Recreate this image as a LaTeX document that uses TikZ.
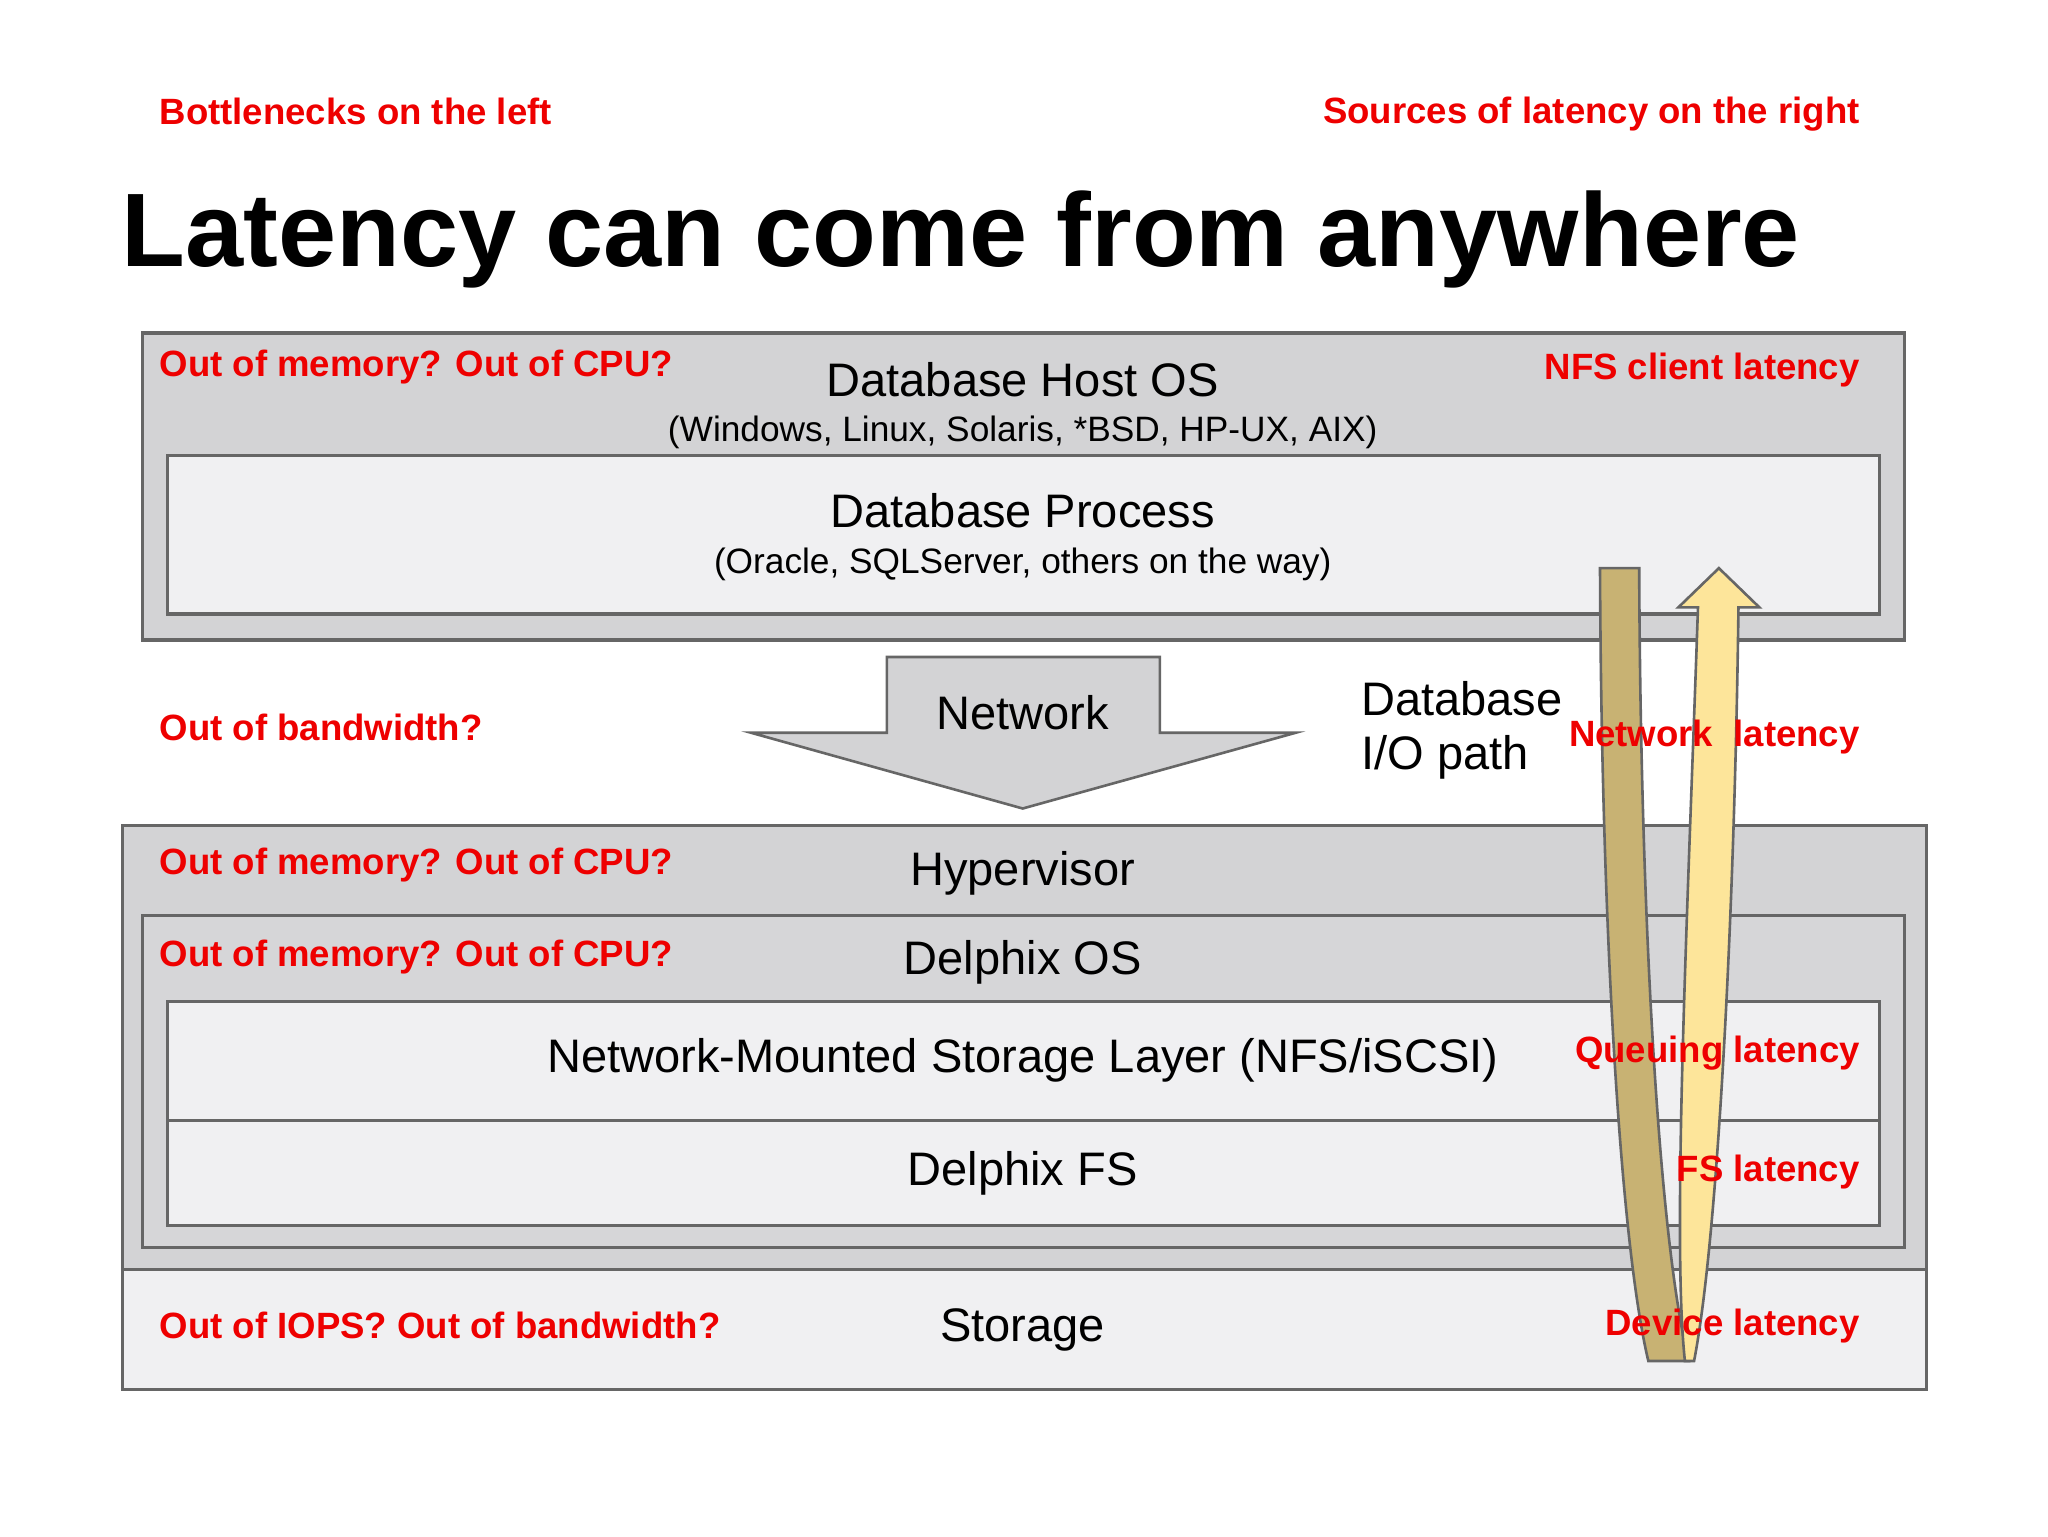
\documentclass[tikz,border=0pt]{standalone}
\usepackage{fontspec}
\setmainfont{Liberation Sans}
\definecolor{redt}{HTML}{EE0000}
\definecolor{bord}{HTML}{666666}
\definecolor{gA}{HTML}{D3D3D5}
\definecolor{gB}{HTML}{F0F0F2}
\definecolor{tan}{HTML}{C8B273}
\definecolor{yel}{HTML}{FDE59A}
\begin{document}
\begin{tikzpicture}[x=1pt,y=-1pt,
  box/.style={draw=bord,line width=2.5pt},
  red/.style={text=redt,font=\fontsize{28}{30}\selectfont\bfseries,inner sep=0pt},
  lbl/.style={font=\fontsize{36}{38}\selectfont,inner sep=0pt},
  sub/.style={font=\fontsize{27}{29}\selectfont,inner sep=0pt}]
\useasboundingbox[fill=white] (0,0) rectangle (1568,1176);
\node[red,anchor=west] (bl) at (122,85) {Bottlenecks on the left};
\node[red,anchor=east] (sr) at (1424,87) {Sources of latency on the right};
\node[anchor=west,inner sep=0pt,font=\fontsize{80}{84}\selectfont\bfseries] (title) at (93,183) {Latency can come from anywhere};
% Host OS
\draw[box,fill=gA] (109,255) rectangle (1458,490);
\node[lbl] (hos) at (783,291) {Database Host OS};
\node[sub] (hoss) at (783,331) {(Windows, Linux, Solaris, *BSD, HP-UX, AIX)};
\node[red,anchor=west] (r1) at (122,281) {Out of memory? Out of CPU?};
\node[red,anchor=east] (l1) at (1424,283) {NFS client latency};
\draw[box,fill=gB] (128,349) rectangle (1439,470);
\node[lbl] (dp) at (783,391) {Database Process};
\node[sub] (dps) at (783,432) {(Oracle, SQLServer, others on the way)};
% Network arrow
\draw[box,fill=gA,line width=2pt] (679,503) -- (888,503) -- (888,561) -- (992,561) -- (783,619) -- (575,561) -- (679,561) -- cycle;
\node[lbl] (net) at (783,546) {Network};
\node[lbl,anchor=west] (io1) at (1042,535) {Database};
\node[lbl,anchor=west] (io2) at (1042,580) {I/O path};
\node[red,anchor=west] (r2) at (122,557) {Out of bandwidth?};
% Hypervisor
\draw[box,fill=gA] (94,632) rectangle (1475,972);
\node[lbl] (hv) at (783,669) {Hypervisor};
\node[red,anchor=west] (r3) at (122,662) {Out of memory? Out of CPU?};
\draw[box,fill={rgb,255:red,214;green,214;blue,216}] (109,701) rectangle (1458,955);
\node[lbl] (dos) at (783,737) {Delphix OS};
\node[red,anchor=west] (r4) at (122,733) {Out of memory? Out of CPU?};
\draw[box,fill=gB] (128,767) rectangle (1439,858);
\node[lbl] (nms) at (783,812) {Network-Mounted Storage Layer (NFS/iSCSI)};
\draw[box,fill=gB] (128,858) rectangle (1439,938);
\node[lbl] (dfs) at (783,898) {Delphix FS};
% Storage
\draw[box,fill=gB] (94,972) rectangle (1475,1064);
\node[lbl] (st) at (783,1018) {Storage};
\node[red,anchor=west] (r5) at (122,1015) {Out of IOPS? Out of bandwidth?};
% I/O path arrows
\draw[draw=bord,line width=2pt,fill=tan] (1225,435) -- (1255,435) .. controls (1256,700) and (1270,950) .. (1293,1042) -- (1262,1042) .. controls (1240,950) and (1226,700) .. cycle;
\draw[draw=bord,line width=2pt,fill=yel] (1290,1042) .. controls (1280,950) and (1292,700) .. (1300,465) -- (1285,465) -- (1316,435) -- (1347,465) -- (1331,465) .. controls (1328,700) and (1315,950) .. (1297,1042) -- cycle;
\node[red,anchor=east] (l2) at (1424,564) {Network\ \ latency};
\node[red,anchor=east] (l3) at (1424,806) {Queuing latency};
\node[red,anchor=east] (l4) at (1424,897) {FS latency};
\node[red,anchor=east] (l5) at (1424,1015) {Device latency};
\end{tikzpicture}
\end{document}
